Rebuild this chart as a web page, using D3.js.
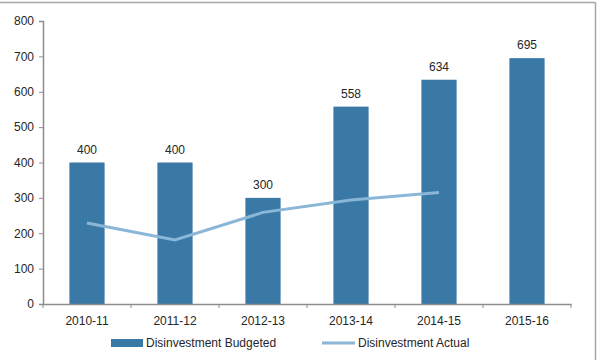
<!DOCTYPE html>
<html>
<head>
<meta charset="utf-8">
<script src="https://cdn.jsdelivr.net/npm/d3@7"></script>
<style>
  body { margin: 0; background: #fff; }
  text { font-family: "Liberation Sans", Arial, sans-serif; }
</style>
</head>
<body>
<script>
// data
var years = ["2010-11", "2011-12", "2012-13", "2013-14", "2014-15", "2015-16"];
var budgeted = [400, 400, 300, 558, 634, 695];
var actualYears = ["2010-11", "2011-12", "2012-13", "2013-14", "2014-15"];
var actual = [229, 181, 259, 294, 315];
var yTicks = [0, 100, 200, 300, 400, 500, 600, 700, 800];

var margin = {top: 21, right: 29, bottom: 56, left: 43},
    width = 600 - margin.left - margin.right,
    height = 360 - margin.top - margin.bottom;

var svg = d3.select("body").append("svg")
    .attr("width", 600)
    .attr("height", 360);

// frame lines (top and right)
svg.append("line")
    .attr("x1", 0).attr("x2", 595.5)
    .attr("y1", 2.5).attr("y2", 2.5)
    .attr("stroke", "#a6a6a6").attr("stroke-width", 1.5);
svg.append("line")
    .attr("x1", 595.5).attr("x2", 595.5)
    .attr("y1", 2.5).attr("y2", 360)
    .attr("stroke", "#a6a6a6").attr("stroke-width", 1.5);

var g = svg.append("g")
    .attr("transform", "translate(" + margin.left + "," + margin.top + ")");

var x = d3.scaleBand()
    .domain(years)
    .range([0, width])
    .paddingInner(0.6)
    .paddingOuter(0.3);

var y = d3.scaleLinear()
    .domain([0, 800])
    .range([height, 0]);

// bars
g.selectAll(".bar")
    .data(budgeted)
    .enter()
    .append("rect")
    .attr("class", "bar")
    .attr("x", function (d, i) { return x(years[i]); })
    .attr("y", function (d) { return y(d); })
    .attr("width", x.bandwidth())
    .attr("height", function (d) { return height - y(d); })
    .attr("fill", "#3a79a6");

// bar labels
g.selectAll(".lbl")
    .data(budgeted)
    .enter()
    .append("text")
    .attr("class", "lbl")
    .attr("x", function (d, i) { return x(years[i]) + x.bandwidth() / 2; })
    .attr("y", function (d) { return y(d) - 9; })
    .attr("text-anchor", "middle")
    .attr("font-size", 12)
    .attr("fill", "#262626")
    .text(function (d) { return d; });

// actual line
var line = d3.line()
    .x(function (d, i) { return x(actualYears[i]) + x.bandwidth() / 2; })
    .y(function (d) { return y(d); });

g.append("path")
    .datum(actual)
    .attr("d", line)
    .attr("fill", "none")
    .attr("stroke", "#8ab6d8")
    .attr("stroke-width", 3);

// y axis
var yAxis = g.append("g")
    .call(d3.axisLeft(y).tickValues(yTicks).tickSize(4).tickPadding(5));
yAxis.select(".domain").attr("stroke", "#8c8c8c").attr("stroke-width", 1.5);
yAxis.selectAll(".tick line").attr("stroke", "#8c8c8c");
yAxis.selectAll("text").attr("font-size", 12).attr("fill", "#262626")
    .style("font-family", "Liberation Sans, Arial, sans-serif");

// x axis with ticks at band boundaries
var xAxis = g.append("g")
    .attr("transform", "translate(0," + height + ")")
    .call(d3.axisBottom(x).tickSize(0).tickPadding(12));
xAxis.select(".domain").attr("stroke", "#8c8c8c").attr("stroke-width", 1.5);
xAxis.selectAll("text").attr("font-size", 12).attr("fill", "#262626")
    .style("font-family", "Liberation Sans, Arial, sans-serif");

var step = x.step();
var bounds = d3.range(years.length + 1).map(function (i) { return i * step; });
g.selectAll(".xtick")
    .data(bounds)
    .enter()
    .append("line")
    .attr("class", "xtick")
    .attr("x1", function (d) { return d; })
    .attr("x2", function (d) { return d; })
    .attr("y1", height)
    .attr("y2", height + 4)
    .attr("stroke", "#8c8c8c");

// legend
var leg = svg.append("g").attr("transform", "translate(111,343)");
leg.append("rect")
    .attr("x", 0).attr("y", -4)
    .attr("width", 32).attr("height", 8)
    .attr("fill", "#3a79a6");
leg.append("text")
    .attr("x", 35).attr("y", 4)
    .attr("font-size", 12).attr("fill", "#262626")
    .text("Disinvestment Budgeted");
leg.append("line")
    .attr("x1", 211).attr("x2", 244)
    .attr("y1", 0).attr("y2", 0)
    .attr("stroke", "#8ab6d8").attr("stroke-width", 3);
leg.append("text")
    .attr("x", 247).attr("y", 4)
    .attr("font-size", 12).attr("fill", "#262626")
    .text("Disinvestment Actual");
</script>
</body>
</html>
